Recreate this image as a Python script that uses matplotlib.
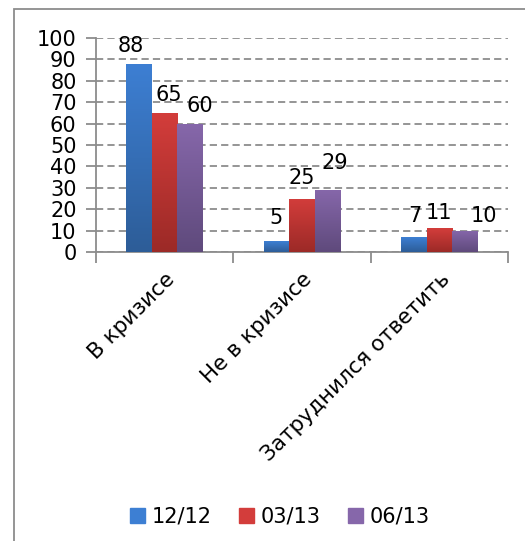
import numpy as np
import matplotlib.pyplot as plt
from matplotlib.patches import Rectangle
from matplotlib.colors import LinearSegmentedColormap

categories = ['В кризисе', 'Не в кризисе', 'Затруднился ответить']
series = ['12/12', '03/13', '06/13']
v1212 = [88, 5, 7]
v0313 = [65, 25, 11]
v0613 = [60, 29, 10]
values = [v1212, v0313, v0613]

# (top colour, bottom colour) for the gradient fill
grad = [('#3d7fd3', '#2d5d98'), ('#d33d3b', '#9c2a27'), ('#8667aa', '#5f4a7c')]
# label offsets in pixels (dx, dy) from the bar top, as in the picture
lab_off = [[(-8, 8), (4, 8), (10, 8)],
           [(0, 13), (0, 11), (7, 17)],
           [(1, 11), (0, 5), (19, 5)]]

plt.rcParams['font.family'] = ['DejaVu Sans']
fig = plt.figure(figsize=(5.25, 5.41), dpi=100)
fig.patches.append(Rectangle((14 / 525, -0.1), 2.0, 1 - 9 / 541 + 0.1, transform=fig.transFigure,
                             fill=False, edgecolor='#8c8c8c', linewidth=1.3, zorder=0))
ax = fig.add_axes([96 / 525, 1 - 252 / 541, 412 / 525, 214 / 541])

x = np.arange(len(categories))
w = 0.186
for i, (vals, (ctop, cbot)) in enumerate(zip(values, grad)):
    bars = ax.bar(x + (i - 1) * w, vals, w, color=cbot, label=series[i], zorder=3)
    cmap = LinearSegmentedColormap.from_list('g%d' % i, [cbot, ctop])
    for j, b in enumerate(bars):
        x0, h = b.get_x(), b.get_height()
        img = ax.imshow(np.linspace(0, 1, 64).reshape(-1, 1), cmap=cmap, origin='lower',
                        extent=[x0, x0 + w, 0, h], aspect='auto', zorder=3.5)
        img.set_clip_path(b)
        dx, dy = lab_off[j][i]
        ax.annotate(str(vals[j]), (x0 + w / 2, h), xytext=(dx * 0.72, dy * 0.72),
                    textcoords='offset points', ha='center', va='bottom', fontsize=15, zorder=5)

ax.set_xlim(-0.5, 2.5)
ax.set_ylim(0, 100)
ax.set_yticks(range(0, 101, 10))
ax.yaxis.grid(True, linestyle=(0, (4, 2.3)), color='#8c8c8c', linewidth=1.3, zorder=1)
ax.set_axisbelow(True)
for s in ['top', 'right']:
    ax.spines[s].set_visible(False)
for s in ['left', 'bottom']:
    ax.spines[s].set_color('#8c8c8c')
    ax.spines[s].set_linewidth(1.3)

ax.set_xticks([-0.5, 0.5, 1.5, 2.5])
ax.set_xticklabels([])
ax.tick_params(axis='x', length=8, width=1.3, color='#8c8c8c')
ax.set_xticks(x, minor=True)
ax.set_xticklabels(categories, minor=True, rotation=45, ha='right', rotation_mode='anchor', fontsize=15.5)
ax.tick_params(axis='x', which='minor', length=0, pad=12)
ax.tick_params(axis='y', length=7, width=1.3, color='#8c8c8c', labelsize=15, pad=7)

leg = fig.legend(loc='center', bbox_to_anchor=(280 / 525, 1 - 517 / 541), ncol=3, frameon=False,
                 fontsize=15, handlelength=0.7, handleheight=0.7, handletextpad=0.35, columnspacing=1.3)
for h, (ctop, cbot) in zip(leg.legend_handles, grad):
    h.set_color(ctop)

fig.savefig('out.png', dpi=100)
